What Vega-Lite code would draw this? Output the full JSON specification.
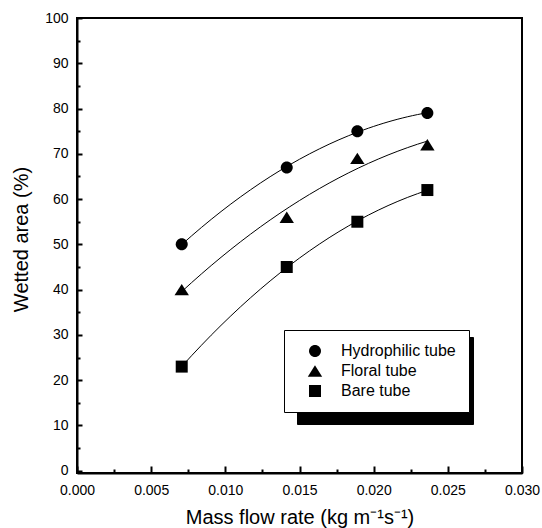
{
  "$schema": "https://vega.github.io/schema/vega-lite/v6.json",
  "width": 445,
  "height": 455,
  "autosize": "none",
  "padding": {"left": 77, "top": 18, "right": 20, "bottom": 55},
  "background": "white",
  "config": {
    "view": {"stroke": "black", "strokeWidth": 2},
    "font": "Liberation Sans",
    "axis": {"grid": false, "domainColor": "black", "tickColor": "black", "labelColor": "black", "titleColor": "black", "domainWidth": 2, "tickWidth": 2, "labelFont": "Liberation Sans", "titleFont": "Liberation Sans", "labelFontSize": 14, "titleFontSize": 20, "titleFontWeight": "normal", "labelFlush": false, "labelOverlap": false}
  },
  "data": {
    "values": [
      {"series": "Hydrophilic tube", "mass": 0.00706, "area": 50},
      {"series": "Hydrophilic tube", "mass": 0.01414, "area": 67},
      {"series": "Hydrophilic tube", "mass": 0.0189, "area": 75},
      {"series": "Hydrophilic tube", "mass": 0.02362, "area": 79},
      {"series": "Floral tube", "mass": 0.00706, "area": 40},
      {"series": "Floral tube", "mass": 0.01414, "area": 56},
      {"series": "Floral tube", "mass": 0.0189, "area": 69},
      {"series": "Floral tube", "mass": 0.02362, "area": 72},
      {"series": "Bare tube", "mass": 0.00706, "area": 23},
      {"series": "Bare tube", "mass": 0.01414, "area": 45},
      {"series": "Bare tube", "mass": 0.0189, "area": 55},
      {"series": "Bare tube", "mass": 0.02362, "area": 62}
    ]
  },
  "resolve": {"axis": {"x": "independent", "y": "independent"}},
  "layer": [
    {
      "transform": [
        {"regression": "area", "on": "mass", "groupby": ["series"], "method": "poly", "order": 2}
      ],
      "mark": {"type": "line", "strokeWidth": 1},
      "encoding": {
        "x": {"field": "mass", "type": "quantitative", "scale": {"domain": [0, 0.03], "nice": false, "zero": false},
          "axis": {"orient": "bottom", "values": [0.0025, 0.0075, 0.0125, 0.0175, 0.0225, 0.0275], "labels": false, "domain": false, "tickSize": -4, "title": null}},
        "y": {"field": "area", "type": "quantitative", "scale": {"domain": [-0.5, 100], "nice": false, "zero": false},
          "axis": {"orient": "left", "values": [5, 15, 25, 35, 45, 55, 65, 75, 85, 95], "labels": false, "domain": false, "tickSize": -3, "title": null}},
        "color": {"field": "series", "type": "nominal", "scale": {"range": ["black", "black", "black"]},
          "legend": {"orient": "bottom-right", "offset": 49, "title": null, "fillColor": "black", "strokeColor": "black", "padding": 13, "symbolOffset": 10, "labelOffset": 124, "labelExpr": "''", "rowPadding": 4, "symbolSize": 144, "symbolType": "square", "symbolFillColor": "black", "symbolStrokeColor": "black", "labelFontSize": 16, "labelColor": "black", "zindex": 0}}
      }
    },
    {
      "mark": {"type": "point", "filled": true, "color": "black", "size": 144, "opacity": 1, "strokeWidth": 0},
      "encoding": {
        "x": {"field": "mass", "type": "quantitative",
          "axis": {"orient": "bottom", "values": [0, 0.005, 0.01, 0.015, 0.02, 0.025, 0.03], "format": ".3f", "tickSize": -7, "labelPadding": 17, "title": "Mass flow rate (kg m⁻¹s⁻¹)", "titleX": 222.5, "titleY": 50, "titleBaseline": "alphabetic", "titleAlign": "center"}},
        "y": {"field": "area", "type": "quantitative",
          "axis": {"orient": "left", "values": [0, 10, 20, 30, 40, 50, 60, 70, 80, 90, 100], "tickSize": -5, "labelPadding": 14, "title": "Wetted area (%)", "titleAngle": 270, "titleX": -50, "titleY": 221, "titleBaseline": "alphabetic", "titleAlign": "center"}},
        "shape": {"field": "series", "type": "nominal",
          "scale": {"domain": ["Hydrophilic tube", "Floral tube", "Bare tube"], "range": ["M-1,0A1,1,0,1,1,1,0A1,1,0,1,1,-1,0Z", "M0,-0.95L1.2,0.95L-1.2,0.95Z", "M-1,-1H1V1H-1Z"]},
          "legend": {"orient": "none", "legendX": 207, "legendY": 312, "title": null, "fillColor": "white", "strokeColor": "black", "padding": 13, "symbolOffset": 10, "labelOffset": 18, "rowPadding": 4, "symbolSize": 144, "symbolFillColor": "black", "symbolStrokeWidth": 0, "labelFontSize": 16, "labelColor": "black", "zindex": 1}}
      }
    }
  ]
}
